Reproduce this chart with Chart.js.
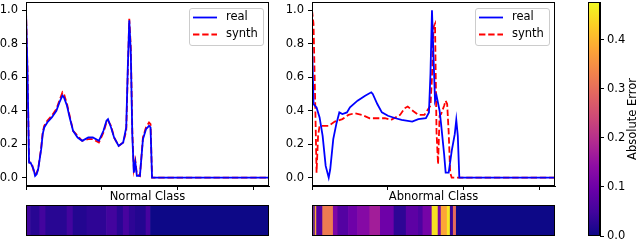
<!DOCTYPE html>
<html>
<head>
<meta charset="utf-8">
<script src="https://cdn.jsdelivr.net/npm/chart.js@4"></script>
<style>
  html, body { margin: 0; padding: 0; background: #fff; overflow: hidden; }
  body { width: 640px; height: 240px; position: relative; }
  canvas { position: absolute; }
</style>
</head>
<body>
<canvas id="normalChart" width="275" height="208" style="left:0;top:0"></canvas>
<canvas id="abnormalChart" width="279" height="208" style="left:282px;top:0"></canvas>
<canvas id="normalStrip" width="255" height="42" style="left:20px;top:200px"></canvas>
<canvas id="abnormalStrip" width="255" height="42" style="left:306px;top:200px"></canvas>
<canvas id="colorBar" width="80" height="260" style="left:560px;top:0"></canvas>
<script>
// axis ticks
const sampleTicks = [0, 50, 100, 150];
const ampTicks = [0, 0.2, 0.4, 0.6, 0.8, 1.0];
const errTicks = [0, 0.1, 0.2, 0.3, 0.4];
const errMax = 0.477;
const errLabel = 'Absolute Error';

// normal class beat (real and synth share sample positions)
const normalX     = [0, 1, 2, 3, 4, 5, 6, 7, 8, 10, 11, 12, 14, 17, 20, 22, 24, 25, 27, 29, 31, 34, 37, 41, 44, 48, 51, 53, 54, 56, 58, 61, 64, 66, 67, 68, 69, 70, 71, 72, 73, 75, 77, 79, 81, 82, 83, 160];
const normalReal  = [1.00, 0.62, 0.09, 0.09, 0.07, 0.05, 0.01, 0.02, 0.05, 0.17, 0.26, 0.30, 0.33, 0.36, 0.40, 0.45, 0.49, 0.48, 0.43, 0.35, 0.28, 0.24, 0.22, 0.24, 0.24, 0.22, 0.28, 0.34, 0.35, 0.30, 0.24, 0.19, 0.21, 0.30, 0.65, 0.94, 0.75, 0.25, 0.03, 0.09, 0.01, 0.01, 0.23, 0.29, 0.31, 0.30, 0.00, 0.00];
const normalSynth = [1.00, 0.64, 0.10, 0.08, 0.08, 0.04, 0.02, 0.03, 0.05, 0.18, 0.27, 0.31, 0.34, 0.37, 0.41, 0.46, 0.51, 0.50, 0.44, 0.36, 0.28, 0.25, 0.22, 0.23, 0.23, 0.21, 0.27, 0.33, 0.34, 0.31, 0.24, 0.19, 0.21, 0.28, 0.62, 0.95, 0.78, 0.28, 0.05, 0.10, 0.02, 0.01, 0.24, 0.30, 0.33, 0.32, 0.00, 0.00];

// abnormal class beat
const abnormalRealX  = [0, 1, 3, 5, 7, 9, 11, 12, 14, 16, 18, 20, 23, 25, 30, 35, 39, 40, 43, 46, 50, 55, 59, 66, 70, 75, 77, 78, 79, 80, 81, 82, 84, 85, 87, 88, 90, 92, 94, 95, 96, 97, 160];
const abnormalReal   = [0.82, 0.44, 0.42, 0.36, 0.25, 0.07, 0.00, 0.05, 0.23, 0.32, 0.39, 0.38, 0.39, 0.42, 0.46, 0.49, 0.51, 0.50, 0.44, 0.39, 0.37, 0.355, 0.345, 0.335, 0.35, 0.355, 0.39, 0.62, 1.00, 0.72, 0.46, 0.49, 0.40, 0.32, 0.14, 0.03, 0.03, 0.16, 0.26, 0.345, 0.25, 0.00, 0.00];
const abnormalSynthX = [0, 1, 2, 3, 4, 5, 7, 11, 15, 20, 24, 28, 33, 38, 48, 52, 58, 61, 63, 67, 70, 74, 78, 79, 80, 81, 82, 83, 84, 85, 87, 88, 89, 90, 91, 92, 160];
const abnormalSynth  = [1.00, 0.92, 0.50, 0.03, 0.25, 0.31, 0.31, 0.31, 0.335, 0.35, 0.375, 0.385, 0.375, 0.355, 0.355, 0.345, 0.375, 0.415, 0.425, 0.395, 0.375, 0.375, 0.43, 0.60, 0.90, 0.92, 0.27, 0.08, 0.37, 0.38, 0.43, 0.46, 0.44, 0.27, 0.03, 0.00, 0.00];

// absolute error strips: segment edges (samples) and error per segment
const normalErrEdges   = [0, 3, 9, 13, 27, 31, 40, 53, 60, 64, 68, 72, 79, 82, 160];
const normalErr        = [0.05, 0.025, 0.05, 0.025, 0.05, 0.02, 0.03, 0.05, 0.025, 0.055, 0.03, 0.02, 0.055, 0.0];
const abnormalErrEdges = [0, 1, 2, 3, 7, 14, 17, 24, 30, 38, 45, 54, 62, 70, 73, 79, 83, 85, 89, 91, 93, 95, 160];
const abnormalErr      = [0.47, 0.06, 0.39, 0.07, 0.32, 0.12, 0.07, 0.10, 0.13, 0.17, 0.10, 0.03, 0.08, 0.06, 0.11, 0.45, 0.12, 0.38, 0.46, 0.04, 0.30, 0.0];

const plasmaStops = ['#0d0887', '#41049d', '#6a00a8', '#8f0da4', '#b12a90', '#cc4778', '#e16462', '#f2844b', '#fca636', '#fcce25', '#f0f921'];

function hexRgb(h) {
  return [1, 3, 5].map(i => parseInt(h.slice(i, i + 2), 16));
}

function plasma(t) {
  t = Math.min(1, Math.max(0, t)) * (plasmaStops.length - 1);
  const i = Math.min(Math.floor(t), plasmaStops.length - 2);
  const f = t - i;
  const a = hexRgb(plasmaStops[i]), b = hexRgb(plasmaStops[i + 1]);
  const c = a.map((v, k) => Math.round(v + (b[k] - v) * f));
  return `rgb(${c[0]},${c[1]},${c[2]})`;
}

Chart.defaults.font.family = '"DejaVu Sans", sans-serif';
Chart.defaults.font.size = 11.5;
Chart.defaults.color = '#000';

const framePlugin = {
  id: 'frame',
  afterDatasetsDraw(chart) {
    const { ctx, chartArea: a } = chart;
    ctx.save();
    ctx.strokeStyle = '#000';
    ctx.lineWidth = 1;
    const l = Math.round(a.left) + 0.5, t = Math.round(a.top) + 0.5;
    ctx.strokeRect(l, t, Math.round(a.right) - Math.round(a.left) - 1, Math.round(a.bottom) - Math.round(a.top) - 1);
    ctx.restore();
  }
};

const boxLegend = {
  id: 'boxLegend',
  afterDraw(chart, args, opts) {
    if (!opts.show) return;
    const { ctx, chartArea: a } = chart;
    const w = 74, h = 37;
    const x0 = Math.round(a.right) - 6 - w, y0 = Math.round(a.top) + 6;
    ctx.save();
    ctx.beginPath();
    ctx.roundRect(x0 + 0.5, y0 + 0.5, w, h, 2.5);
    ctx.fillStyle = 'rgba(255,255,255,0.8)';
    ctx.fill();
    ctx.strokeStyle = '#cccccc';
    ctx.lineWidth = 1;
    ctx.stroke();
    chart.data.datasets.forEach((ds, i) => {
      const y = y0 + 9.5 + i * 17;
      ctx.beginPath();
      ctx.setLineDash(ds.borderDash || []);
      ctx.strokeStyle = ds.borderColor;
      ctx.lineWidth = ds.borderWidth;
      ctx.moveTo(x0 + 4, y);
      ctx.lineTo(x0 + 28, y);
      ctx.stroke();
      ctx.setLineDash([]);
      ctx.fillStyle = '#000';
      ctx.font = '11.5px "DejaVu Sans"';
      ctx.textBaseline = 'middle';
      ctx.fillText(ds.label, x0 + 37, y);
    });
    ctx.restore();
  }
};

const cbTitle = {
  id: 'cbTitle',
  afterDraw(chart) {
    const { ctx, chartArea: a } = chart;
    ctx.save();
    ctx.translate(73, (a.top + a.bottom) / 2);
    ctx.rotate(-Math.PI / 2);
    ctx.fillStyle = '#000';
    ctx.font = '11.5px "DejaVu Sans"';
    ctx.textAlign = 'center';
    ctx.textBaseline = 'middle';
    ctx.fillText(errLabel, 0, 0);
    ctx.restore();
  }
};

function pts(xs, ys) {
  return xs.map((x, i) => ({ x: x, y: ys[i] }));
}

function signalChart(id, real, synth, title, yWidth) {
  return new Chart(document.getElementById(id), {
    type: 'line',
    data: {
      datasets: [
        { label: 'real', data: real, borderColor: '#0000ff', borderWidth: 1.8, pointRadius: 0, tension: 0 },
        { label: 'synth', data: synth, borderColor: '#ff0000', borderWidth: 1.8, borderDash: [6.4, 2.8], pointRadius: 0, tension: 0 }
      ]
    },
    options: {
      responsive: false,
      animation: false,
      events: [],
      layout: { padding: { left: 0, right: 6, top: 2, bottom: 0 } },
      scales: {
        x: {
          type: 'linear', min: 0, max: 160,
          afterBuildTicks: s => { s.ticks = sampleTicks.map(v => ({ value: v })); },
          afterFit: s => { s.height = 22; s.paddingLeft = 0; s.paddingRight = 0; },
          grid: { drawOnChartArea: false, tickLength: 4, color: '#000' },
          border: { color: '#000' },
          ticks: { autoSkip: false, callback: () => '' },
          title: { display: true, text: title, padding: { top: 0, bottom: 4 } }
        },
        y: {
          min: -0.05, max: 1.05,
          afterBuildTicks: s => { s.ticks = ampTicks.map(v => ({ value: v })); },
          afterFit: s => { s.width = yWidth; s.paddingTop = 0; s.paddingBottom = 0; },
          grid: { drawOnChartArea: false, tickLength: 4, color: '#000' },
          border: { color: '#000' },
          ticks: { padding: 4, callback: v => v.toFixed(1) }
        }
      },
      plugins: { legend: { display: false }, tooltip: { enabled: false }, boxLegend: { show: true } }
    },
    plugins: [framePlugin, boxLegend]
  });
}

function stripChart(id, edges, errs) {
  const segs = errs.map((e, i) => ({ x: [edges[i], edges[i + 1]], y: 'err' }));
  return new Chart(document.getElementById(id), {
    type: 'bar',
    data: {
      labels: ['err'],
      datasets: [{
        data: segs,
        backgroundColor: errs.map(e => plasma(e / errMax)),
        borderWidth: 0,
        barPercentage: 1,
        categoryPercentage: 1
      }]
    },
    options: {
      indexAxis: 'y',
      responsive: false,
      animation: false,
      events: [],
      layout: { padding: { left: 6, right: 6, top: 5, bottom: 6 } },
      scales: {
        x: { type: 'linear', min: 0, max: 160, display: false },
        y: { display: false }
      },
      plugins: { legend: { display: false }, tooltip: { enabled: false } }
    },
    plugins: [framePlugin]
  });
}

signalChart('normalChart', pts(normalX, normalReal), pts(normalX, normalSynth), 'Normal Class', 26);
signalChart('abnormalChart', pts(abnormalRealX, abnormalReal), pts(abnormalSynthX, abnormalSynth), 'Abnormal Class', 30);
stripChart('normalStrip', normalErrEdges, normalErr);
stripChart('abnormalStrip', abnormalErrEdges, abnormalErr);

new Chart(document.getElementById('colorBar'), {
  type: 'bar',
  data: {
    labels: ['cb'],
    datasets: [{
      data: [[0, errMax]],
      borderWidth: 0,
      barPercentage: 1,
      categoryPercentage: 1,
      backgroundColor: c => {
        const chart = c.chart;
        if (!chart.chartArea) return plasmaStops[0];
        const y = chart.scales.y;
        const g = chart.ctx.createLinearGradient(0, y.getPixelForValue(0), 0, y.getPixelForValue(errMax));
        plasmaStops.forEach((col, i) => g.addColorStop(i / (plasmaStops.length - 1), col));
        return g;
      }
    }]
  },
  options: {
    responsive: false,
    animation: false,
    events: [],
    layout: { padding: { left: 28, right: 0, top: 2, bottom: 24 } },
    scales: {
      x: { display: false },
      y: {
        position: 'right', min: 0, max: errMax,
        afterBuildTicks: s => { s.ticks = errTicks.map(v => ({ value: v })); },
        afterFit: s => { s.width = 40; s.paddingTop = 0; s.paddingBottom = 0; },
        grid: { drawOnChartArea: false, tickLength: 4, color: '#000' },
        border: { color: '#000' },
        ticks: { padding: 3, callback: v => v.toFixed(1) }
      }
    },
    plugins: { legend: { display: false }, tooltip: { enabled: false } }
  },
  plugins: [framePlugin, cbTitle]
});
</script>
</body>
</html>
